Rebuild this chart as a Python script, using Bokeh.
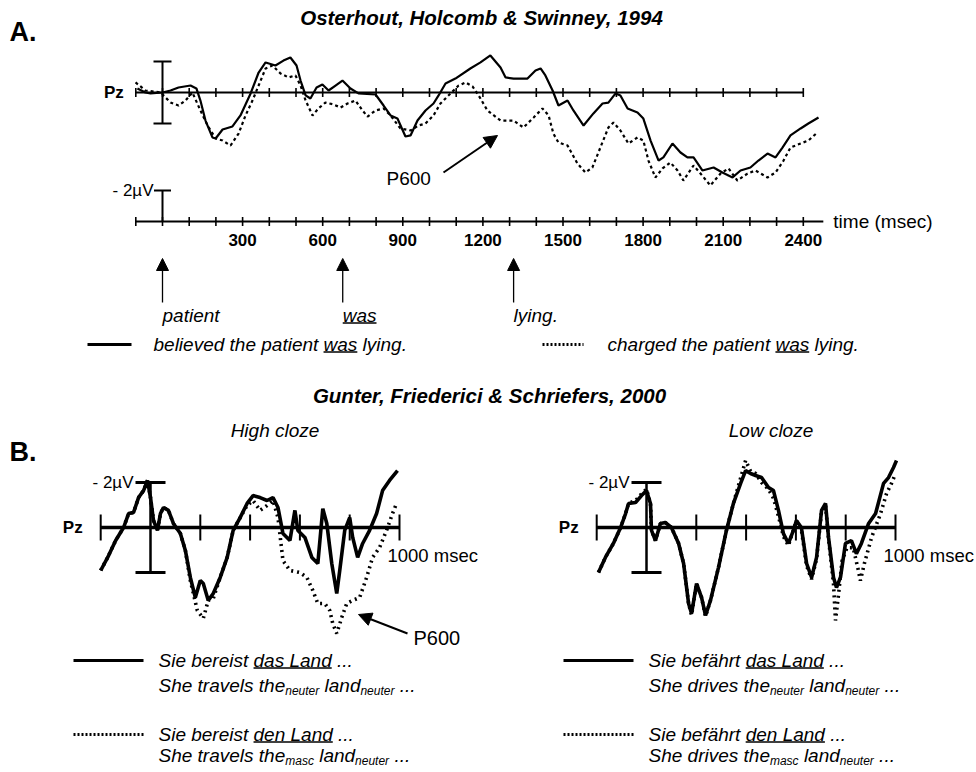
from math import pi
from bokeh.plotting import figure
from bokeh.models import Range1d, Arrow, NormalHead, ColumnDataSource
from bokeh.core.properties import value
from bokeh.embed import file_html
from bokeh.resources import INLINE

# ======================= DATA =======================
# Panel A: Osterhout, Holcomb & Swinney (1994), electrode Pz.
# time in ms, amplitude in microvolts (negative plotted upward)
a_solid_ms = [-94, -64, -45, 0, 30, 60, 105, 127, 142, 161, 187, 199, 225, 262, 292, 330, 360, 386, 423,
              453, 479, 502, 517, 536, 554, 577, 599, 622, 648, 674, 704, 734, 798, 828, 854, 880, 910,
              929, 955, 985, 1015, 1034, 1060, 1097, 1153, 1191, 1228, 1266, 1285, 1315, 1367, 1397,
              1416, 1434, 1461, 1483, 1517, 1539, 1577, 1614, 1648, 1670, 1697, 1715, 1742, 1779, 1801,
              1828, 1858, 1876, 1910, 1940, 1966, 1989, 2022, 2064, 2097, 2135, 2165, 2202, 2232, 2266,
              2296, 2322, 2352, 2390, 2419, 2457]
a_solid_uv = [-0.26, 0, 0.06, 0, -0.13, -0.32, -0.45, -0.26, 0.52, 1.81, 2.90, 2.97, 2.39, 2.19, 1.48,
              0.06, -1.29, -1.94, -1.74, -2.06, -2.26, -1.74, -0.77, 0.19, 0.39, -0.32, -0.52, -0.13,
              -0.45, -0.77, -0.26, 0.06, 0.13, 0.84, 1.48, 1.68, 2.84, 2.77, 1.81, 1.16, 0.71, 0.19,
              -0.58, -0.90, -1.55, -1.94, -2.39, -1.61, -0.97, -0.90, -0.90, -1.42, -1.55, -1.10, -0.13,
              0.84, 0.52, 1.16, 2.13, 1.35, 0.71, 0.65, 0.06, 0.19, 1.03, 1.29, 1.68, 3.10, 4.39, 4.19,
              3.29, 3.87, 4.19, 4.19, 5.03, 4.84, 5.16, 5.48, 5.03, 4.84, 4.39, 3.94, 4.19, 3.55, 2.77,
              2.32, 2.00, 1.61]
a_dotted_ms = [-101, -82, -64, -7, 30, 60, 86, 112, 142, 169, 199, 225, 255, 285, 311, 337, 360, 386,
               412, 442, 472, 498, 517, 536, 562, 584, 610, 640, 667, 693, 723, 749, 768, 798, 828, 854,
               891, 929, 959, 985, 1015, 1041, 1079, 1109, 1135, 1161, 1184, 1217, 1266, 1315, 1352,
               1390, 1423, 1446, 1464, 1483, 1517, 1554, 1584, 1610, 1640, 1670, 1689, 1715, 1745, 1779,
               1801, 1820, 1846, 1873, 1902, 1929, 1951, 1989, 2015, 2052, 2090, 2120, 2153, 2191, 2221,
               2266, 2296, 2326, 2352, 2390, 2419, 2453]
a_dotted_uv = [-0.65, -0.39, -0.13, 0, 0.65, 0.84, 0.52, 0, 1.16, 2.13, 2.97, 3.10, 3.42, 2.65, 1.48,
               0.52, -0.45, -1.55, -1.74, -1.23, -0.97, -1.10, -0.45, 0.52, 1.48, 1.03, 0.65, 0.77, 0.97,
               0.71, 0.52, 1.16, 1.55, 1.16, 1.03, 1.48, 2.32, 2.45, 2.13, 2.00, 1.48, 0.71, 0.06, -0.45,
               -0.65, -0.39, 0.19, 1.16, 1.81, 1.81, 2.26, 1.61, 1.03, 1.48, 2.65, 3.23, 3.42, 4.58, 5.16,
               4.84, 3.55, 2.26, 1.94, 2.45, 3.29, 2.90, 3.10, 4.39, 5.48, 4.90, 4.52, 5.03, 5.68, 4.71,
               5.23, 6.00, 5.23, 4.90, 5.68, 5.23, 5.03, 5.48, 5.16, 4.39, 3.55, 3.29, 3.10, 2.58]
a_axis_ticks_ms = [-100, 0, 100, 200, 300, 400, 500, 600, 700, 800, 900, 1000, 1100, 1200, 1300,
                   1400, 1500, 1600, 1700, 1800, 1900, 2000, 2100, 2200, 2300, 2400]
a_tick_labels_ms = [300, 600, 900, 1200, 1500, 1800, 2100, 2400]
a_time_axis_end_ms = 2475
a_word_onsets_ms = [0, 675, 1315]
a_words = ["patient", "was", "lying."]
calibration_uv = 2

# Panel B: Gunter, Friederici & Schriefers (2000), electrode Pz.
b_axis_ticks_ms = [-200, 200, 400, 600, 800, 1000]
b_high_solid_ms = [-200, -172, -140, -108, -88, -68, -48, -28, -12, 0, 12, 28, 40, 52, 72, 92, 120, 140,
                   160, 180, 200, 212, 232, 252, 280, 308, 332, 360, 388, 412, 440, 468, 492, 512, 532,
                   560, 580, 592, 620, 648, 672, 692, 708, 728, 748, 760, 780, 800, 812, 832, 852, 880,
                   908, 932, 960, 992]
b_high_solid_uv = [1.91, 1.33, 0.58, 0, -0.62, -0.67, -1.33, -1.64, -2.09, -1.33, -0.31, 0.13, -0.62,
                   -0.89, -0.76, -0.18, 0.27, 1.02, 2.22, 3.11, 2.36, 2.49, 3.24, 2.93, 2.22, 1.33, 0.13,
                   -0.44, -1.07, -1.42, -1.33, -1.20, -1.33, -0.89, 0.27, 0.58, -0.76, 0.13, 0.44, 1.33,
                   1.60, -0.84, -0.18, 1.60, 2.93, 1.91, 0.13, -0.44, 0.44, 1.33, 0.71, 0.13, -0.62, -1.64,
                   -2.09, -2.53]
b_high_dotted_ms = [-200, -172, -140, -108, -88, -68, -48, -28, -12, 0, 12, 28, 40, 52, 72, 92, 120, 140,
                    160, 188, 212, 232, 252, 280, 308, 332, 360, 388, 412, 440, 468, 492, 512, 532, 560,
                    600, 628, 652, 672, 700, 720, 732, 748, 768, 788, 812, 840, 868, 892, 920, 948, 972, 988]
b_high_dotted_uv = [1.91, 1.33, 0.58, 0, -0.62, -0.67, -1.33, -1.64, -2.09, -1.33, -0.31, 0.13, -0.62,
                    -0.89, -0.76, -0.18, 0.27, 1.02, 2.36, 3.69, 4.04, 3.24, 3.16, 2.22, 1.33, 0.13, -0.44,
                    -0.98, -1.20, -0.76, -0.98, -1.20, -0.44, 1.47, 1.91, 2.00, 2.22, 2.80, 3.38, 3.38,
                    3.69, 4.27, 4.71, 4.00, 3.38, 3.24, 3.11, 2.22, 1.33, 0.89, 0.13, -0.62, -1.07]
b_low_solid_ms = [-193, -165, -133, -104, -84, -72, -44, -20, 0, 16, 20, 36, 56, 76, 100, 129, 149, 169,
                  181, 201, 221, 237, 257, 289, 321, 349, 378, 398, 418, 438, 462, 490, 510, 530, 550, 570,
                  590, 602, 622, 643, 663, 683, 703, 719, 731, 751, 763, 779, 799, 823, 843, 863, 892, 920,
                  952, 972, 992, 1004]
b_low_solid_uv = [2.00, 1.33, 0.71, 0, -0.62, -1.07, -1.11, -1.42, -1.64, -1.07, 0.13, 0.58, -0.18, -0.22,
                  0, 0.71, 1.60, 3.38, 3.82, 2.49, 3.11, 3.91, 3.24, 1.78, 0.13, -1.07, -1.96, -2.53, -2.40,
                  -2.31, -2.22, -1.78, -1.64, -0.76, 0.27, 0.71, 0.13, -0.31, 0, 1.60, 2.22, 1.33, -0.76,
                  -1.07, 0.44, 2.22, 2.67, 2.22, 0.71, 0.58, 1.16, 0.71, -0.18, -0.62, -1.96, -2.22, -2.67,
                  -2.98]
b_low_dotted_ms = [-193, -165, -133, -104, -84, -72, -44, -20, 0, 16, 20, 36, 56, 76, 100, 129, 149, 169,
                   181, 201, 221, 237, 257, 289, 321, 349, 378, 398, 418, 438, 462, 490, 510, 530, 550, 570,
                   590, 602, 622, 643, 663, 683, 703, 719, 731, 751, 759, 771, 785, 805, 830, 851, 859, 875,
                   904, 940, 964, 984, 1000]
b_low_dotted_uv = [2.0, 1.33, 0.71, 0, -0.62, -1.07, -1.2, -1.5, -1.7, -1.07, 0.13, 0.58, -0.18, -0.22, 0,
                   0.71, 1.6, 3.38, 3.9, 2.49, 3.11, 3.95, 3.24, 1.78, 0.13, -1.07, -2.2, -2.98, -2.5, -2.4,
                   -2.0, -1.7, -1.3, -0.5, 0.4, 0.8, 0.1, -0.3, 0.1, 1.7, 2.3, 1.4, -0.7, -1.0, 0.5, 2.5,
                   4.13, 3.0, 1.5, 0.9, 0.9, 1.91, 2.36, 1.6, 0.44, -0.62, -1.51, -1.96, -2.4]

# ======================= LAYOUT =======================
W_PX, H_PX = 976, 772
A_ZERO_X, A_PX_PER_MS = 162, 0.267
A_ZERO_Y, A_LOW_AXIS_Y, A_PX_PER_UV = 92, 221, 15.5
BL_ZERO_X, BR_ZERO_X, B_PX_PER_MS = 150, 646, 0.249
B_ZERO_Y, B_PX_PER_UV = 527, 22.5
FONT = "Liberation Sans"

ARIAL = {' ': 278, '.': 278, ',': 278, '-': 333, '(': 333, ')': 333, '&': 667,
         'a': 556, 'b': 556, 'c': 500, 'd': 556, 'e': 556, 'f': 278, 'g': 556, 'h': 556, 'i': 222,
         'j': 222, 'k': 500, 'l': 222, 'm': 833, 'n': 556, 'o': 556, 'p': 556, 'q': 556, 'r': 333,
         's': 500, 't': 278, 'u': 556, 'v': 500, 'w': 722, 'x': 500, 'y': 500, 'z': 500, '\u00e4': 556,
         'L': 556, 'S': 667}


def tw(s, size):
    return sum(ARIAL.get(c, 556) for c in s) * size / 1000.0


def time_range(x_zero, px_per_ms):
    return Range1d(start=(0 - x_zero) / px_per_ms, end=(W_PX - x_zero) / px_per_ms)


def amp_range(y_zero, px_per_uv):
    return Range1d(start=(H_PX - y_zero) / px_per_uv, end=(0 - y_zero) / px_per_uv)


p = figure(width=W_PX, height=H_PX, x_range=Range1d(0, W_PX), y_range=Range1d(H_PX, 0),
           output_backend="svg", toolbar_location=None, x_axis_location=None, y_axis_location=None,
           min_border=0, outline_line_color=None)
p.grid.visible = False
p.extra_x_ranges = {"tA": time_range(A_ZERO_X, A_PX_PER_MS),
                    "tBL": time_range(BL_ZERO_X, B_PX_PER_MS),
                    "tBR": time_range(BR_ZERO_X, B_PX_PER_MS)}
p.extra_y_ranges = {"vA": amp_range(A_ZERO_Y, A_PX_PER_UV),
                    "vA2": amp_range(A_LOW_AXIS_Y, A_PX_PER_UV),
                    "vB": amp_range(B_ZERO_Y, B_PX_PER_UV)}


def txt(x, y, s, size, style="normal", align="left", baseline="middle", xr="default", yr="default",
        font=FONT, x_offset=0):
    xs = x if isinstance(x, list) else [x]
    ys = y if isinstance(y, list) else [y] * len(xs)
    ss = s if isinstance(s, list) else [s] * len(xs)
    p.text(x=xs, y=ys, text=ss, text_font=value(font), text_font_size=f"{size}px",
           text_font_style=style, text_align=align, text_baseline=baseline, text_color="black",
           x_range_name=xr, y_range_name=yr, x_offset=x_offset)


def underline(x0, x1, y_mid, size, xr="default"):
    yy = y_mid + 0.26 * size + 2.5
    p.segment(x0=[x0], y0=[yy], x1=[x1], y1=[yy], line_width=1.4, line_color="black", x_range_name=xr)


def rich(x, y, parts, size=19, sub_size=12, sub_drop=6):
    cx = x
    for s, kind in parts:
        sz = sub_size if kind == "sub" else size
        core = s.strip(' ')
        lead = len(s) - len(s.lstrip(' '))
        trail = len(s) - lead - len(core)
        cx += tw(' ' * lead, sz)
        txt(cx, y + (sub_drop if kind == "sub" else 0), core, sz, "italic")
        w = tw(core, sz)
        if kind == "u":
            underline(cx, cx + w, y, size)
        cx += w + tw(' ' * trail, sz)


def ticks(xs, yr, xr, size, lw):
    p.scatter(x=xs, y=[0] * len(xs), marker="dash", size=size, angle=pi / 2, line_color="black",
              line_width=lw, x_range_name=xr, y_range_name=yr)


# ======================= PANEL A =======================
txt(481, 17, "Osterhout, Holcomb & Swinney, 1994", 20.5, "bold italic", align="center")
txt(9, 31, "A.", 27, "bold")

p.line(x=[a_axis_ticks_ms[0], a_axis_ticks_ms[-1]], y=[0, 0], line_color="black", line_width=2,
       x_range_name="tA", y_range_name="vA")
ticks(a_axis_ticks_ms, "vA", "tA", 9, 1.6)
p.segment(x0=[0], y0=[-calibration_uv], x1=[0], y1=[calibration_uv], line_color="black", line_width=2,
          x_range_name="tA", y_range_name="vA")
p.scatter(x=[0, 0], y=[-calibration_uv, calibration_uv], marker="dash", size=18, line_color="black",
          line_width=2, x_range_name="tA", y_range_name="vA")
txt(a_axis_ticks_ms[0], 0, "Pz", 17, "bold", align="right", xr="tA", yr="vA", x_offset=-12)

p.line(x=a_solid_ms, y=a_solid_uv, line_color="black", line_width=2.2, x_range_name="tA", y_range_name="vA")
p.line(x=a_dotted_ms, y=a_dotted_uv, line_color="black", line_width=2.2, line_dash="3 3",
       x_range_name="tA", y_range_name="vA")

p.line(x=[a_axis_ticks_ms[0], a_time_axis_end_ms], y=[0, 0], line_color="black", line_width=2,
       x_range_name="tA", y_range_name="vA2")
ticks(a_axis_ticks_ms, "vA2", "tA", 9, 1.6)
p.segment(x0=[0], y0=[0], x1=[0], y1=[-calibration_uv], line_color="black", line_width=2,
          x_range_name="tA", y_range_name="vA2")
p.scatter(x=[0], y=[-calibration_uv], marker="dash", size=17, line_color="black", line_width=2,
          x_range_name="tA", y_range_name="vA2")
txt(0, -calibration_uv, "- 2\u00b5V", 17, align="right", xr="tA", yr="vA2", x_offset=-9)
txt(a_tick_labels_ms, 239, [str(v) for v in a_tick_labels_ms], 17, "bold", align="center", xr="tA")
txt(a_time_axis_end_ms, 0, "time (msec)", 19, xr="tA", yr="vA2", x_offset=10)

txt(386, 178, "P600", 19)
p.add_layout(Arrow(x_start=443, y_start=172, x_end=497, y_end=135, line_width=2,
                   end=NormalHead(size=13, fill_color="black", line_color="black")))

src = ColumnDataSource(dict(xs=a_word_onsets_ms, ys=[302] * 3, xe=a_word_onsets_ms, ye=[258] * 3))
p.add_layout(Arrow(source=src, x_start="xs", y_start="ys", x_end="xe", y_end="ye", x_range_name="tA",
                   line_width=1.3, end=NormalHead(size=12, fill_color="black", line_color="black")))
txt(a_word_onsets_ms, 315, a_words, 19, "italic", xr="tA")
was_i = a_words.index("was")
underline(a_word_onsets_ms[was_i], a_word_onsets_ms[was_i] + tw("was", 19) / A_PX_PER_MS, 315, 19, xr="tA")

p.line(x=[87, 131], y=[344, 344], line_color="black", line_width=3)
rich(153, 344, [("believed the patient ", "n"), ("was", "u"), (" lying.", "n")])
p.line(x=[542, 583], y=[344, 344], line_color="black", line_width=3, line_dash="2 2")
rich(607, 344, [("charged the patient ", "n"), ("was", "u"), (" lying.", "n")])

# ======================= PANEL B =======================
txt(489, 395, "Gunter, Friederici & Schriefers, 2000", 20.5, "bold italic", align="center")
txt(9, 451, "B.", 27, "bold")

for xr, sub_title, solid_t, solid_v, dot_t, dot_v in [
        ("tBL", "High cloze", b_high_solid_ms, b_high_solid_uv, b_high_dotted_ms, b_high_dotted_uv),
        ("tBR", "Low cloze", b_low_solid_ms, b_low_solid_uv, b_low_dotted_ms, b_low_dotted_uv)]:
    txt(500, 430, sub_title, 19, "italic", align="center", xr=xr)
    p.line(x=[b_axis_ticks_ms[0], b_axis_ticks_ms[-1]], y=[0, 0], line_color="black", line_width=3.5,
           x_range_name=xr, y_range_name="vB")
    ticks(b_axis_ticks_ms, "vB", xr, 26, 2)
    p.segment(x0=[0], y0=[-calibration_uv], x1=[0], y1=[calibration_uv], line_color="black",
              line_width=2.5, x_range_name=xr, y_range_name="vB")
    p.scatter(x=[0, 0], y=[-calibration_uv, calibration_uv], marker="dash", size=30, line_color="black",
              line_width=3, x_range_name=xr, y_range_name="vB")
    txt(b_axis_ticks_ms[0], 0, "Pz", 17, "bold", align="right", xr=xr, yr="vB", x_offset=-18)
    txt(0, -calibration_uv, "- 2\u00b5V", 17, align="right", xr=xr, yr="vB", x_offset=-17)
    txt(b_axis_ticks_ms[-1], 555, "1000 msec", 18.5, xr=xr, x_offset=-12)
    p.line(x=solid_t, y=solid_v, line_color="black", line_width=3.6, x_range_name=xr, y_range_name="vB")
    p.line(x=dot_t, y=dot_v, line_color="black", line_width=3.6, line_dash="2 4",
           x_range_name=xr, y_range_name="vB")

txt(413, 637, "P600", 20)
p.add_layout(Arrow(x_start=407, y_start=633, x_end=358, y_end=614, line_width=2,
                   end=NormalHead(size=13, fill_color="black", line_color="black")))

for x_line, x_text, verb_de, verb_en in [(73, 158, "Sie bereist ", "She travels the"),
                                         (563, 648, "Sie bef\u00e4hrt ", "She drives the")]:
    p.line(x=[x_line, x_line + 70], y=[660, 660], line_color="black", line_width=3)
    rich(x_text, 660, [(verb_de, "n"), ("das Land", "u"), (" ...", "n")])
    rich(x_text, 685, [(verb_en, "n"), ("neuter", "sub"), (" land", "n"), ("neuter", "sub"), (" ...", "n")],
         sub_drop=5)
    p.line(x=[x_line, x_line + 70], y=[734, 734], line_color="black", line_width=3, line_dash="2 2")
    rich(x_text, 734, [(verb_de, "n"), ("den Land", "u"), (" ...", "n")])
    rich(x_text, 755, [(verb_en, "n"), ("masc", "sub"), (" land", "n"), ("neuter", "sub"), (" ...", "n")],
         sub_drop=5)

open("out.html", "w").write(file_html(p, INLINE))
